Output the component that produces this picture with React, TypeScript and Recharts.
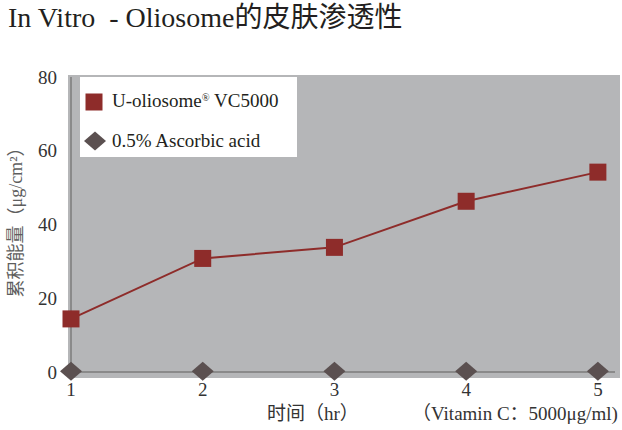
import React from 'react';
import { LineChart, Line, XAxis, YAxis, Legend } from 'recharts';

const hours = [1, 2, 3, 4, 5];
const oliosomeValues = [14.4, 30.8, 33.8, 46.3, 54.2];
const ascorbicValues = [0.2, 0.2, 0.2, 0.2, 0.2];
const yTicks = [0, 20, 40, 60, 80];
const seriesNames = ['U-oliosome® VC5000', '0.5% Ascorbic acid'];
const titleText = 'In Vitro  - Oliosome的皮肤渗透性';
const yLabelText = '累积能量（μg/cm²）';
const xLabelText = '时间（hr）';
const xNoteText = '（Vitamin C：5000μg/ml)';

const data = hours.map((h, i) => ({ hour: h, oliosome: oliosomeValues[i], ascorbic: ascorbicValues[i] }));

const FONT = '"Liberation Serif", "Times New Roman", "Noto Sans CJK SC", serif';
const RED = '#8e2c2a';
const DIAMOND = '#5b5050';

const renderSquare = (props: any) => {
  const { cx, cy, index } = props;
  return <rect key={`sq-${index}`} x={cx - 8.5} y={cy - 8.5} width={17} height={17} fill={RED} />;
};

const renderDiamond = (props: any) => {
  const { cx, cy, index } = props;
  return (
    <path
      key={`dm-${index}`}
      d={`M${cx},${cy - 9.5} L${cx + 11},${cy} L${cx},${cy + 9.5} L${cx - 11},${cy} Z`}
      fill={DIAMOND}
    />
  );
};

const withReg = (s: string) => {
  const parts = s.split('®');
  if (parts.length === 1) return s;
  return (
    <>
      {parts[0]}
      <sup style={{ fontSize: '0.55em', verticalAlign: '0.6em', lineHeight: 0 }}>®</sup>
      {parts[1]}
    </>
  );
};

const LegendBox = () => (
  <div
    style={{
      width: 217,
      height: 80,
      background: '#ffffff',
      fontFamily: FONT,
      fontSize: 19,
      color: '#231f20',
      position: 'relative',
    }}
  >
    <svg width={20} height={20} style={{ position: 'absolute', left: 4, top: 15 }}>
      <rect x={1.5} y={1.5} width={17} height={17} fill={RED} />
    </svg>
    <div style={{ position: 'absolute', left: 32, top: 12, whiteSpace: 'nowrap', lineHeight: '24px' }}>
      {withReg(seriesNames[0])}
    </div>
    <svg width={24} height={22} style={{ position: 'absolute', left: 3, top: 53 }}>
      <path d="M12,1.5 L23,11 L12,20.5 L1,11 Z" fill={DIAMOND} />
    </svg>
    <div style={{ position: 'absolute', left: 32, top: 52, whiteSpace: 'nowrap', lineHeight: '24px' }}>
      {seriesNames[1]}
    </div>
  </div>
);

const YLabel = () => (
  <text
    x={16}
    y={218}
    transform="rotate(-90 16 218)"
    textAnchor="middle"
    dominantBaseline="central"
    fill="#5e5e5e"
    fontSize={18}
    fontFamily={FONT}
  >
    {yLabelText}
  </text>
);

const XLabel = () => (
  <g fontFamily={FONT} fontSize={19} fill="#333333">
    <text x={267} y={420}>{xLabelText}</text>
    <text x={412} y={420}>{xNoteText}</text>
  </g>
);

export default function App() {
  return (
    <div style={{ position: 'absolute', left: 0, top: 0, width: 622, height: 430, background: '#ffffff' }}>
      <div
        style={{
          position: 'absolute',
          left: 68,
          top: 75,
          width: 552,
          height: 303,
          background: '#b5b6b8',
        }}
      />
      <div
        style={{
          position: 'absolute',
          left: 8,
          top: 1,
          fontFamily: FONT,
          fontSize: 28,
          color: '#231f20',
          whiteSpace: 'pre',
          lineHeight: '34px',
        }}
      >
        {titleText}
      </div>
      <div style={{ position: 'absolute', left: 0, top: 0 }}>
        <LineChart width={622} height={430} data={data} margin={{ top: 77, right: 7, bottom: 0, left: 11 }}>
          <XAxis
            dataKey="hour"
            type="number"
            domain={[1, 5.13]}
            ticks={hours}
            tickLine={false}
            tickSize={0}
            tickMargin={11}
            height={58}
            axisLine={{ stroke: '#8a8a8a', strokeWidth: 2 }}
            tick={{ fill: '#333333', fontSize: 19, fontFamily: FONT }}
            label={<XLabel />}
          />
          <YAxis
            type="number"
            domain={[0, 80]}
            ticks={yTicks}
            width={60}
            tickLine={false}
            tickSize={0}
            tickMargin={14}
            axisLine={{ stroke: '#8a8a8a', strokeWidth: 2 }}
            tick={{ fill: '#333333', fontSize: 19, fontFamily: FONT }}
            label={<YLabel />}
          />
          <Legend
            layout="vertical"
            align="center"
            verticalAlign="middle"
            content={() => <LegendBox />}
            wrapperStyle={{ position: 'absolute', left: 80, top: 77, width: 217, height: 80 }}
          />
          <Line
            dataKey="oliosome"
            name={seriesNames[0]}
            stroke={RED}
            strokeWidth={2}
            dot={renderSquare}
            activeDot={false}
            isAnimationActive={false}
          />
          <Line
            dataKey="ascorbic"
            name={seriesNames[1]}
            stroke="none"
            dot={renderDiamond}
            activeDot={false}
            isAnimationActive={false}
          />
        </LineChart>
      </div>
    </div>
  );
}
